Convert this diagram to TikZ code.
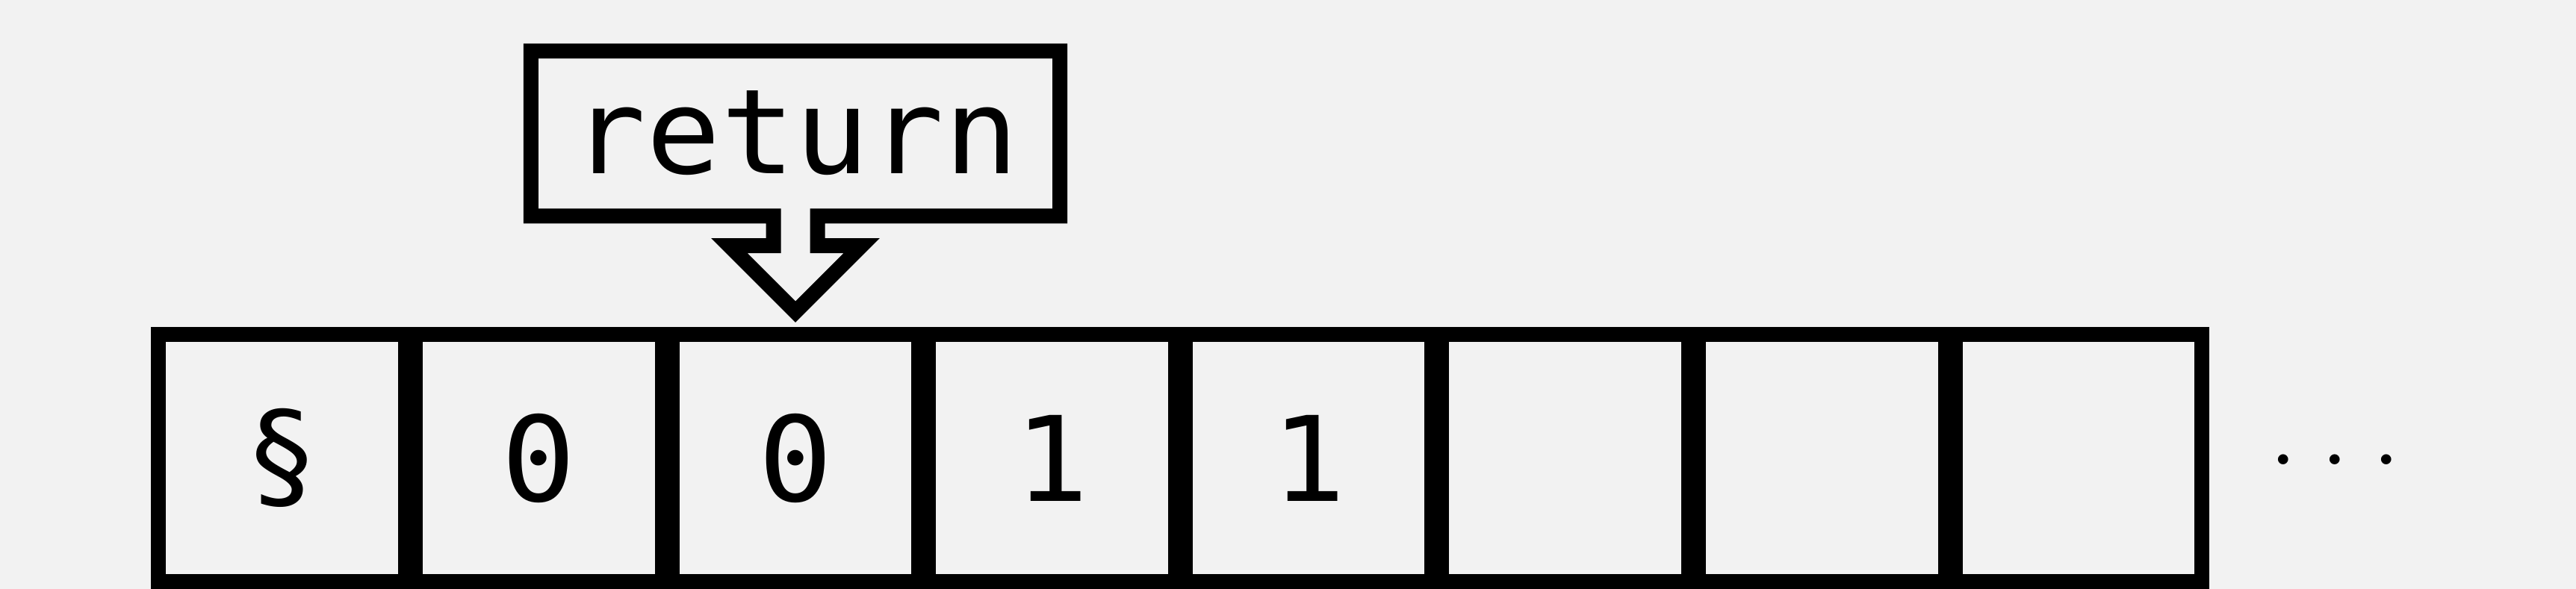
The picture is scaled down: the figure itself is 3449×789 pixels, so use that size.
\documentclass[tikz,border=0pt]{standalone}
\usepackage{fontspec}
\newfontfamily\monofont[FakeStretch=1.048]{DejaVu Sans Mono}
\definecolor{bg}{HTML}{F2F2F2}
\begin{document}
\begin{tikzpicture}[x=1pt,y=-1pt,
  bigmono/.style={font=\monofont\fontsize{158}{190}\selectfont},
  cellbox/.style={draw=black, line width=20pt, minimum width=330.7pt,
    minimum height=330.7pt, inner sep=0pt, bigmono},
  calloutline/.style={draw=black, line width=20pt, line join=miter, miter limit=10}]
\useasboundingbox (0,0) rectangle (3449,789);
\fill[bg] (0,0) rectangle (3449,789);
% memory cells
\node[cellbox] (c1) at (377.65,613.65) {§};
\node[cellbox] (c2) at (721.25,613.65) {0};
\node[cellbox] (c3) at (1064.85,613.65) {0};
\node[cellbox] (c4) at (1408.45,613.65) {1};
\node[cellbox] (c5) at (1752.05,613.65) {1};
\node[cellbox] (c6) at (2095.65,613.65) {};
\node[cellbox] (c7) at (2439.25,613.65) {};
\node[cellbox] (c8) at (2782.85,613.65) {};
% ellipsis
\node[anchor=base, inner sep=0pt, font=\fontsize{166}{200}\selectfont] (dots)
  at (3126.6,622.1) {.\kern.1667em.\kern.1667em.};
% callout
\node[bigmono, anchor=base, inner sep=0pt] (ret) at (1065,232.3) {return};
\draw[calloutline] (1065,68.3) -- (1419.15,68.3) -- (1419.15,289.3)
  -- (1094.5,289.3) -- (1094.5,329) -- (1153.65,329) -- (1065,417.65)
  -- (976.35,329) -- (1035.5,329) -- (1035.5,289.3) -- (710.85,289.3)
  -- (710.85,68.3) -- cycle;
\end{tikzpicture}
\end{document}
